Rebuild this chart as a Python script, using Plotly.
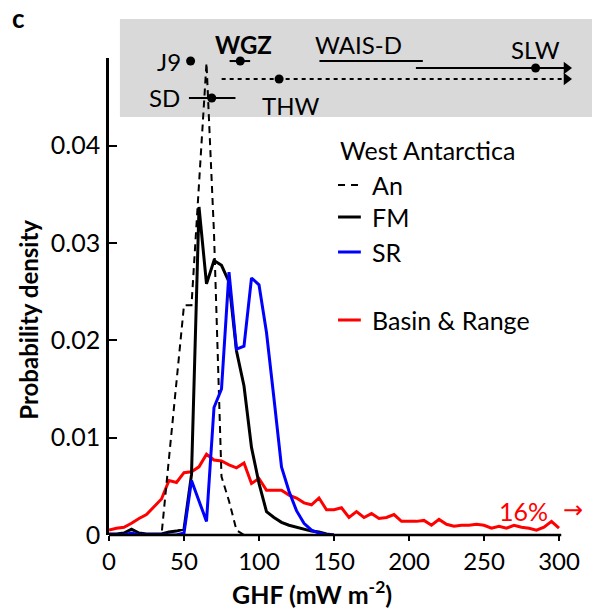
import plotly.graph_objects as go

# ---------------- data ----------------
# GHF bin centres (mW m-2)
bins_br = list(range(0, 305, 5))
basin_range = [0.0005, 0.0007, 0.0008, 0.0012, 0.0017, 0.0021, 0.0029, 0.0037, 0.0056, 0.0054,
               0.0064, 0.0065, 0.0070, 0.0083, 0.0077, 0.0076, 0.0072, 0.0069, 0.0074, 0.0053,
               0.0058, 0.0046, 0.0046, 0.0046, 0.0041, 0.0038, 0.0033, 0.0031, 0.0038, 0.0026,
               0.0026, 0.0028, 0.0018, 0.0024, 0.0018, 0.0022, 0.0017, 0.0018, 0.0021, 0.0014,
               0.0014, 0.0014, 0.0015, 0.0010, 0.0016, 0.0011, 0.0009, 0.0010, 0.0010, 0.0011,
               0.0010, 0.0007, 0.0009, 0.0007, 0.0010, 0.0008, 0.0007, 0.0005, 0.0008, 0.0014,
               0.0007]

an_x = [30, 35, 40, 45, 50, 55, 60, 65, 70, 75, 80, 85, 90, 95]
an_y = [0, 0, 0.0079, 0.0157, 0.0236, 0.0236, 0.0360, 0.0485, 0.0310, 0.0060, 0.0035, 0.0005, 0, 0]

fm_x = list(range(0, 155, 5))
fm_y = [0.0001, 0.0001, 0.0002, 0.0006, 0.0002, 0.0001, 0.0001, 0.0001, 0.0003, 0.0004,
        0.0006, 0.0062, 0.0337, 0.0258, 0.0282, 0.0277, 0.0260, 0.0189, 0.0153, 0.0090,
        0.0053, 0.0024, 0.0018, 0.0013, 0.0010, 0.0008, 0.0006, 0.0004, 0.0003, 0.0001, 0.0]

sr_x = list(range(0, 155, 5))
sr_y = [0, 0, 0, 0.0002, 0, 0, 0, 0, 0, 0,
        0.0002, 0.0056, 0.0035, 0.0014, 0.0131, 0.0150, 0.0270, 0.0191, 0.0194, 0.0264,
        0.0257, 0.0208, 0.0140, 0.0070, 0.0045, 0.0025, 0.0012, 0.0005, 0.0002, 0, 0]

# site GHF estimates (point, low, high); None = no value
site_names = ["J9", "WGZ", "WAIS-D", "SLW", "THW", "SD"]
site_ghf = [54.4, 87.5, None, 284.4, 113.4, 68.5]
site_lo = [None, 80.4, 140.3, 204.6, 75.1, 53.3]
site_hi = [None, 94.1, 209.2, 305.0, 305.0, 84.3]
site_open = [False, False, False, True, True, False]   # arrow: value extends beyond 300
site_dotted = [False, False, False, False, True, False]
site_row = [0.571, 0.571, 0.571, 0.50, 0.388, 0.194]    # vertical row inside the grey box

x_ticks = [0, 50, 100, 150, 200, 250, 300]
y_ticks = [0, 0.01, 0.02, 0.03, 0.04]
y_ticktext = ["0", "0.01", "0.02", "0.03", "0.04"]

# ---------------- layout helpers ----------------
FIG_W, FIG_H = 592, 610
L, R, T, B = 109, 14, 19, 75
PW, PH = FIG_W - L - R, FIG_H - T - B
def px(x):
    return (x - L) / PW
def py(y):
    return (FIG_H - B - y) / PH

FONT = "Lato"
fig = go.Figure()

fig.add_trace(go.Scatter(x=bins_br, y=basin_range, mode="lines",
                         line=dict(color="#ff0000", width=3), showlegend=False))
fig.add_trace(go.Scatter(x=an_x, y=an_y, mode="lines",
                         line=dict(color="black", width=2, dash="7px,5px"), showlegend=False))
fig.add_trace(go.Scatter(x=fm_x, y=fm_y, mode="lines",
                         line=dict(color="black", width=3), showlegend=False))
fig.add_trace(go.Scatter(x=sr_x, y=sr_y, mode="lines",
                         line=dict(color="#0000ff", width=3), showlegend=False))

# grey box site estimates (on overlay axis y2)
for i, name in enumerate(site_names):
    r = site_row[i]
    if site_lo[i] is not None:
        fig.add_trace(go.Scatter(x=[site_lo[i], site_hi[i]], y=[r, r], mode="lines",
                                 xaxis="x", yaxis="y2", showlegend=False,
                                 line=dict(color="black", width=2,
                                           dash="4px,4px" if site_dotted[i] else "solid")))
    if site_open[i]:
        fig.add_trace(go.Scatter(x=[site_hi[i]], y=[r], mode="markers", xaxis="x", yaxis="y2",
                                 showlegend=False, cliponaxis=False,
                                 marker=dict(symbol="triangle-right", size=11, color="black")))
    if site_ghf[i] is not None:
        fig.add_trace(go.Scatter(x=[site_ghf[i]], y=[r], mode="markers", xaxis="x", yaxis="y2",
                                 showlegend=False, cliponaxis=False,
                                 marker=dict(symbol="circle", size=9, color="black")))

ann = []
lab_font = dict(family=FONT, size=24, color="black")
leg_font = dict(family=FONT, size=25, color="black")
def A(**kw):
    kw.setdefault("showarrow", False)
    kw.setdefault("xanchor", "center")
    kw.setdefault("yanchor", "middle")
    ann.append(kw)

# site labels
A(x=site_ghf[0], y=site_row[0], xref="x", yref="y2", text="J9", xanchor="right", xshift=-8, font=lab_font)
A(x=site_ghf[1], y=0.735, xref="x", yref="y2", text="<b>WGZ</b>", xshift=3, font=lab_font)
A(x=site_lo[2], y=0.735, xref="x", yref="y2", text="WAIS-D", xanchor="left", xshift=-6, font=lab_font)
A(x=site_ghf[3], y=0.684, xref="x", yref="y2", text="SLW", font=lab_font)
A(x=site_ghf[4], y=0.122, xref="x", yref="y2", text="THW", xshift=11, font=lab_font)
A(x=site_lo[5], y=site_row[5], xref="x", yref="y2", text="SD", xanchor="right", xshift=-7, font=lab_font)

# legend
leg_x0, leg_x1, leg_tx = 340, 363, 372
A(x=px(leg_x0), y=py(150), xref="paper", yref="paper", text="West Antarctica",
  xanchor="left", font=leg_font)
legend_items = [("An", 185, "black", "7px,6px", 2), ("FM", 217, "black", "solid", 3),
                ("SR", 252, "#0000ff", "solid", 3), ("Basin &amp; Range", 320, "#ff0000", "solid", 3)]
shapes = []
for txt, yy, col, dash, w in legend_items:
    shapes.append(dict(type="line", xref="paper", yref="paper", x0=px(leg_x0), x1=px(leg_x1),
                       y0=py(yy), y1=py(yy), line=dict(color=col, width=w, dash=dash)))
    A(x=px(leg_tx), y=py(yy), xref="paper", yref="paper", text=txt, xanchor="left", font=leg_font)

# grey box
shapes.insert(0, dict(type="rect", xref="paper", yref="paper", x0=px(120), x1=px(600),
                      y0=py(117), y1=py(19), fillcolor="#d9d9d9", line=dict(width=0),
                      layer="below"))
# x axis baseline (ends at 300)
shapes.append(dict(type="line", xref="x", yref="paper", x0=0, x1=301.5, y0=0, y1=0,
                   line=dict(color="black", width=2.5)))

# axis titles, panel label, 16%
A(x=px(28), y=py(320), xref="paper", yref="paper", text="<b>Probability density</b>",
  textangle=-90, font=dict(family=FONT, size=24, color="black"))
A(x=px(314), y=py(592), xref="paper", yref="paper", text="<b>GHF (mW m<sup>-2</sup>)</b>",
  font=dict(family=FONT, size=25, color="black"))
A(x=px(18), y=py(18), xref="paper", yref="paper", text="<b>c</b>",
  font=dict(family=FONT, size=26, color="black"))
A(x=px(527), y=py(511), xref="paper", yref="paper", text="16%",
  font=dict(family=FONT, size=25, color="#ff0000"))
A(x=px(577), y=py(510), xref="paper", yref="paper", text="→",
  font=dict(family="DejaVu Sans", size=24, color="#ff0000"))

fig.update_layout(
    width=FIG_W, height=FIG_H, autosize=False,
    margin=dict(l=L, r=R, t=T, b=B, pad=0),
    paper_bgcolor="white", plot_bgcolor="rgba(0,0,0,0)",
    font=dict(family=FONT, size=24, color="black"),
    showlegend=False,
    xaxis=dict(range=[0, 310], domain=[0, 1], anchor="y", tickmode="array", tickvals=x_ticks,
               ticks="outside", ticklen=5, tickwidth=2, tickcolor="black",
               showline=False, showgrid=False, zeroline=False, ticklabelstandoff=0,
               tickfont=dict(family=FONT, size=24, color="black")),
    yaxis=dict(range=[0, 0.049], domain=[0, py(58)], anchor="x", tickmode="array",
               tickvals=y_ticks, ticktext=y_ticktext, ticks="inside", ticklen=8, tickwidth=2,
               tickcolor="black", showline=True, linecolor="black", linewidth=2.5,
               showgrid=False, zeroline=False, ticklabelstandoff=1,
               tickfont=dict(family=FONT, size=25, color="black")),
    yaxis2=dict(range=[0, 1], domain=[py(117), 1], anchor="x", visible=False,
                showgrid=False, zeroline=False),
    shapes=shapes,
    annotations=ann,
)

fig.write_html("out.html")
